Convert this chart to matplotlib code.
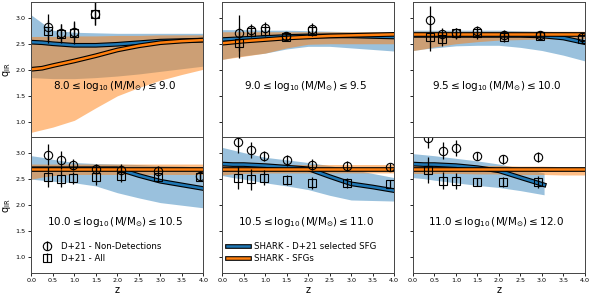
import numpy as np
import matplotlib
matplotlib.use("Agg")
import matplotlib.pyplot as plt
import matplotlib.patheffects as pe
from matplotlib.lines import Line2D

plt.rcParams['mathtext.default'] = 'regular'

# ---------------- data ----------------
mass_bins = [("8.0", "9.0"), ("9.0", "9.5"), ("9.5", "10.0"),
             ("10.0", "10.5"), ("10.5", "11.0"), ("11.0", "12.0")]

z_grid = [0, 0.25, 0.5, 1, 1.5, 2, 2.5, 3, 3.5, 4]
z_blue = [z_grid, z_grid, z_grid, z_grid, z_grid,
          [0, 0.25, 0.5, 1, 1.5, 2, 2.5, 3.05]]

blue_up = [
    [3.05, 2.90, 2.76, 2.72, 2.71, 2.70, 2.70, 2.70, 2.70, 2.70],
    [2.77, 2.77, 2.77, 2.76, 2.76, 2.75, 2.74, 2.73, 2.73, 2.72],
    [2.76, 2.76, 2.76, 2.76, 2.76, 2.76, 2.75, 2.74, 2.73, 2.71],
    [2.95, 2.92, 2.88, 2.82, 2.80, 2.79, 2.78, 2.76, 2.75, 2.73],
    [3.11, 3.06, 3.01, 2.92, 2.87, 2.82, 2.76, 2.69, 2.61, 2.53],
    [2.99, 2.97, 2.95, 2.90, 2.85, 2.79, 2.71, 2.62],
]
blue_lo = [
    [1.85, 1.84, 1.83, 1.83, 1.85, 1.88, 1.92, 1.97, 2.02, 2.07],
    [2.20, 2.24, 2.27, 2.32, 2.40, 2.45, 2.45, 2.42, 2.39, 2.36],
    [2.37, 2.40, 2.42, 2.46, 2.47, 2.47, 2.43, 2.37, 2.28, 2.17],
    [2.50, 2.48, 2.46, 2.43, 2.37, 2.24, 2.14, 2.05, 2.00, 1.95],
    [2.57, 2.53, 2.50, 2.43, 2.37, 2.30, 2.19, 2.10, 2.09, 2.08],
    [2.53, 2.51, 2.48, 2.43, 2.38, 2.34, 2.28, 2.20],
]
blue_line = [
    [2.53, 2.52, 2.50, 2.47, 2.47, 2.49, 2.52, 2.55, 2.56, 2.57],
    [2.58, 2.59, 2.60, 2.62, 2.64, 2.65, 2.65, 2.65, 2.64, 2.63],
    [2.66, 2.66, 2.66, 2.66, 2.66, 2.66, 2.66, 2.65, 2.61, 2.52],
    [2.70, 2.70, 2.70, 2.70, 2.70, 2.70, 2.57, 2.46, 2.39, 2.32],
    [2.79, 2.78, 2.78, 2.76, 2.73, 2.70, 2.55, 2.41, 2.35, 2.28],
    [2.79, 2.78, 2.78, 2.76, 2.72, 2.66, 2.53, 2.39],
]
orange_up = [
    [2.64, 2.64, 2.64, 2.65, 2.65, 2.66, 2.66, 2.67, 2.67, 2.67],
    [2.73, 2.73, 2.73, 2.73, 2.73, 2.73, 2.73, 2.73, 2.73, 2.73],
    [2.74, 2.74, 2.74, 2.74, 2.74, 2.74, 2.74, 2.74, 2.74, 2.74],
    [2.79, 2.79, 2.79, 2.79, 2.79, 2.79, 2.79, 2.79, 2.79, 2.79],
    [2.78, 2.78, 2.78, 2.78, 2.78, 2.78, 2.78, 2.78, 2.78, 2.78],
    [2.77, 2.77, 2.77, 2.77, 2.76, 2.76, 2.75, 2.75, 2.74, 2.74],
]
orange_lo = [
    [0.80, 0.85, 0.90, 1.03, 1.27, 1.50, 1.66, 1.80, 1.91, 2.01],
    [2.20, 2.23, 2.26, 2.32, 2.42, 2.49, 2.50, 2.50, 2.50, 2.50],
    [2.37, 2.40, 2.44, 2.50, 2.54, 2.57, 2.58, 2.59, 2.60, 2.60],
    [2.50, 2.54, 2.57, 2.59, 2.59, 2.59, 2.59, 2.59, 2.59, 2.59],
    [2.58, 2.60, 2.61, 2.62, 2.62, 2.62, 2.62, 2.62, 2.62, 2.62],
    [2.61, 2.61, 2.61, 2.61, 2.60, 2.60, 2.59, 2.59, 2.58, 2.58],
]
orange_line = [
    [2.01, 2.03, 2.08, 2.17, 2.27, 2.38, 2.46, 2.52, 2.55, 2.57],
    [2.51, 2.53, 2.55, 2.58, 2.61, 2.63, 2.65, 2.66, 2.67, 2.68],
    [2.68, 2.68, 2.68, 2.68, 2.68, 2.68, 2.68, 2.68, 2.68, 2.68],
    [2.69, 2.69, 2.69, 2.69, 2.69, 2.69, 2.69, 2.69, 2.69, 2.69],
    [2.69, 2.69, 2.69, 2.69, 2.69, 2.69, 2.69, 2.69, 2.69, 2.69],
    [2.69, 2.69, 2.69, 2.69, 2.69, 2.69, 2.69, 2.69, 2.69, 2.69],
]

# D+21 observations
z_obs = [
    [0.39, 0.68, 0.99, 1.49],
    [0.39, 0.68, 0.99, 1.49, 2.10],
    [0.39, 0.67, 0.99, 1.49, 2.12, 2.95, 3.94],
    [0.38, 0.68, 0.98, 1.50, 2.08, 2.95, 3.93],
    [0.37, 0.68, 0.97, 1.50, 2.09, 2.90, 3.91],
    [0.36, 0.70, 1.00, 1.49, 2.10, 2.90],
]
q_nd = [
    [2.82, 2.70, 2.73, 3.08],
    [2.71, 2.76, 2.81, 2.65, 2.78],
    [2.95, 2.68, 2.71, 2.74, 2.67, 2.67, 2.62],
    [2.97, 2.87, 2.78, 2.69, 2.68, 2.66, 2.57],
    [3.21, 3.06, 2.94, 2.86, 2.78, 2.75, 2.73],
    [3.29, 3.05, 3.10, 2.95, 2.88, 2.92],
]
e_nd = [
    [0.26, 0.17, 0.18, 0.22],
    [0.34, 0.12, 0.10, 0.08, 0.12],
    [0.27, 0.12, 0.10, 0.10, 0.10, 0.08, 0.08],
    [0.20, 0.17, 0.10, 0.10, 0.12, 0.10, 0.08],
    [0.20, 0.15, 0.10, 0.10, 0.10, 0.10, 0.08],
    [0.20, 0.16, 0.15, 0.08, 0.08, 0.10],
]
q_all = [
    [2.74, 2.69, 2.71, 3.08],
    [2.52, 2.73, 2.74, 2.63, 2.75],
    [2.63, 2.60, 2.70, 2.70, 2.63, 2.65, 2.59],
    [2.54, 2.51, 2.52, 2.54, 2.57, 2.54, 2.54],
    [2.53, 2.50, 2.53, 2.48, 2.43, 2.43, 2.41],
    [2.67, 2.47, 2.47, 2.45, 2.45, 2.45],
]
e_all = [
    [0.22, 0.18, 0.22, 0.22],
    [0.30, 0.10, 0.10, 0.08, 0.10],
    [0.27, 0.15, 0.10, 0.10, 0.10, 0.08, 0.08],
    [0.20, 0.17, 0.12, 0.15, 0.12, 0.10, 0.08],
    [0.22, 0.20, 0.15, 0.10, 0.12, 0.10, 0.08],
    [0.25, 0.16, 0.15, 0.08, 0.10, 0.12],
]

# ---------------- plot ----------------
BLUE = '#1f77b4'
ORANGE = '#ff7f0e'

fig, axes = plt.subplots(2, 3, figsize=(5.92, 2.96), dpi=100,
                         sharex=True, sharey=True)
fig.subplots_adjust(left=0.053, right=0.988, top=0.993, bottom=0.078,
                    wspace=0.11, hspace=0.0)

stroke = [pe.Stroke(linewidth=3.4, foreground='k'), pe.Normal()]

for i, ax in enumerate(axes.flat):
    ax.fill_between(z_blue[i], blue_lo[i], blue_up[i], color=BLUE,
                    alpha=0.45, linewidth=0)
    ax.fill_between(z_grid, orange_lo[i], orange_up[i], color=ORANGE,
                    alpha=0.5, linewidth=0)
    ax.plot(z_blue[i], blue_line[i], color=BLUE, lw=1.8, path_effects=stroke)
    ax.plot(z_grid, orange_line[i], color=ORANGE, lw=1.8, path_effects=stroke)

    ax.errorbar(z_obs[i], q_nd[i], yerr=e_nd[i], fmt='o', mfc='none',
                mec='k', ecolor='k', ms=6, mew=0.8, elinewidth=0.9)
    ax.errorbar(z_obs[i], q_all[i], yerr=e_all[i], fmt='s', mfc='none',
                mec='k', ecolor='k', ms=6, mew=0.8, elinewidth=0.9)

    lo, hi = mass_bins[i]
    ax.text(1.94, 1.68,
            r'$%s \leq \log_{10}(\mathrm{M/M_{\odot}}) \leq %s$' % (lo, hi),
            ha='center', va='center', fontsize=7.5)

    ax.set_xlim(0, 4)
    ax.set_ylim(0.7, 3.3)
    ax.set_xticks(np.arange(0, 4.01, 0.5))
    ax.set_yticks([1.0, 1.5, 2.0, 2.5, 3.0])
    ax.tick_params(labelsize=4.6, length=2.5, width=0.6, pad=1.5)
    for s in ax.spines.values():
        s.set_linewidth(0.7)
        s.set_color('#444444')

for ax in axes[1]:
    ax.set_xlabel('z', fontsize=7, labelpad=1)
for ax in axes[:, 0]:
    ax.set_ylabel(r'$q_{IR}$', fontsize=7, labelpad=2)

# legends
h_nd = axes[1, 0].errorbar([], [], yerr=[], fmt='o', mfc='none', mec='k',
                           ecolor='k', ms=6, mew=0.8, elinewidth=0.9)
h_all = axes[1, 0].errorbar([], [], yerr=[], fmt='s', mfc='none', mec='k',
                            ecolor='k', ms=6, mew=0.8, elinewidth=0.9)
axes[1, 0].legend([h_nd, h_all], ['D+21 - Non-Detections', 'D+21 - All'],
                  loc='lower left', bbox_to_anchor=(0.033, 0.05),
                  frameon=False, fontsize=6.2, handlelength=1.6,
                  handletextpad=0.8, borderaxespad=0.0, labelspacing=0.35)

l_b = Line2D([], [], color=BLUE, lw=1.8, path_effects=stroke)
l_o = Line2D([], [], color=ORANGE, lw=1.8, path_effects=stroke)
axes[1, 1].legend([l_b, l_o], ['SHARK - D+21 selected SFG', 'SHARK - SFGs'],
                  loc='lower left', bbox_to_anchor=(0.01, 0.05),
                  frameon=False, fontsize=6.2, handlelength=2.5,
                  handletextpad=0.6, borderaxespad=0.0, labelspacing=0.35)

fig.savefig('out.png', dpi=100)
